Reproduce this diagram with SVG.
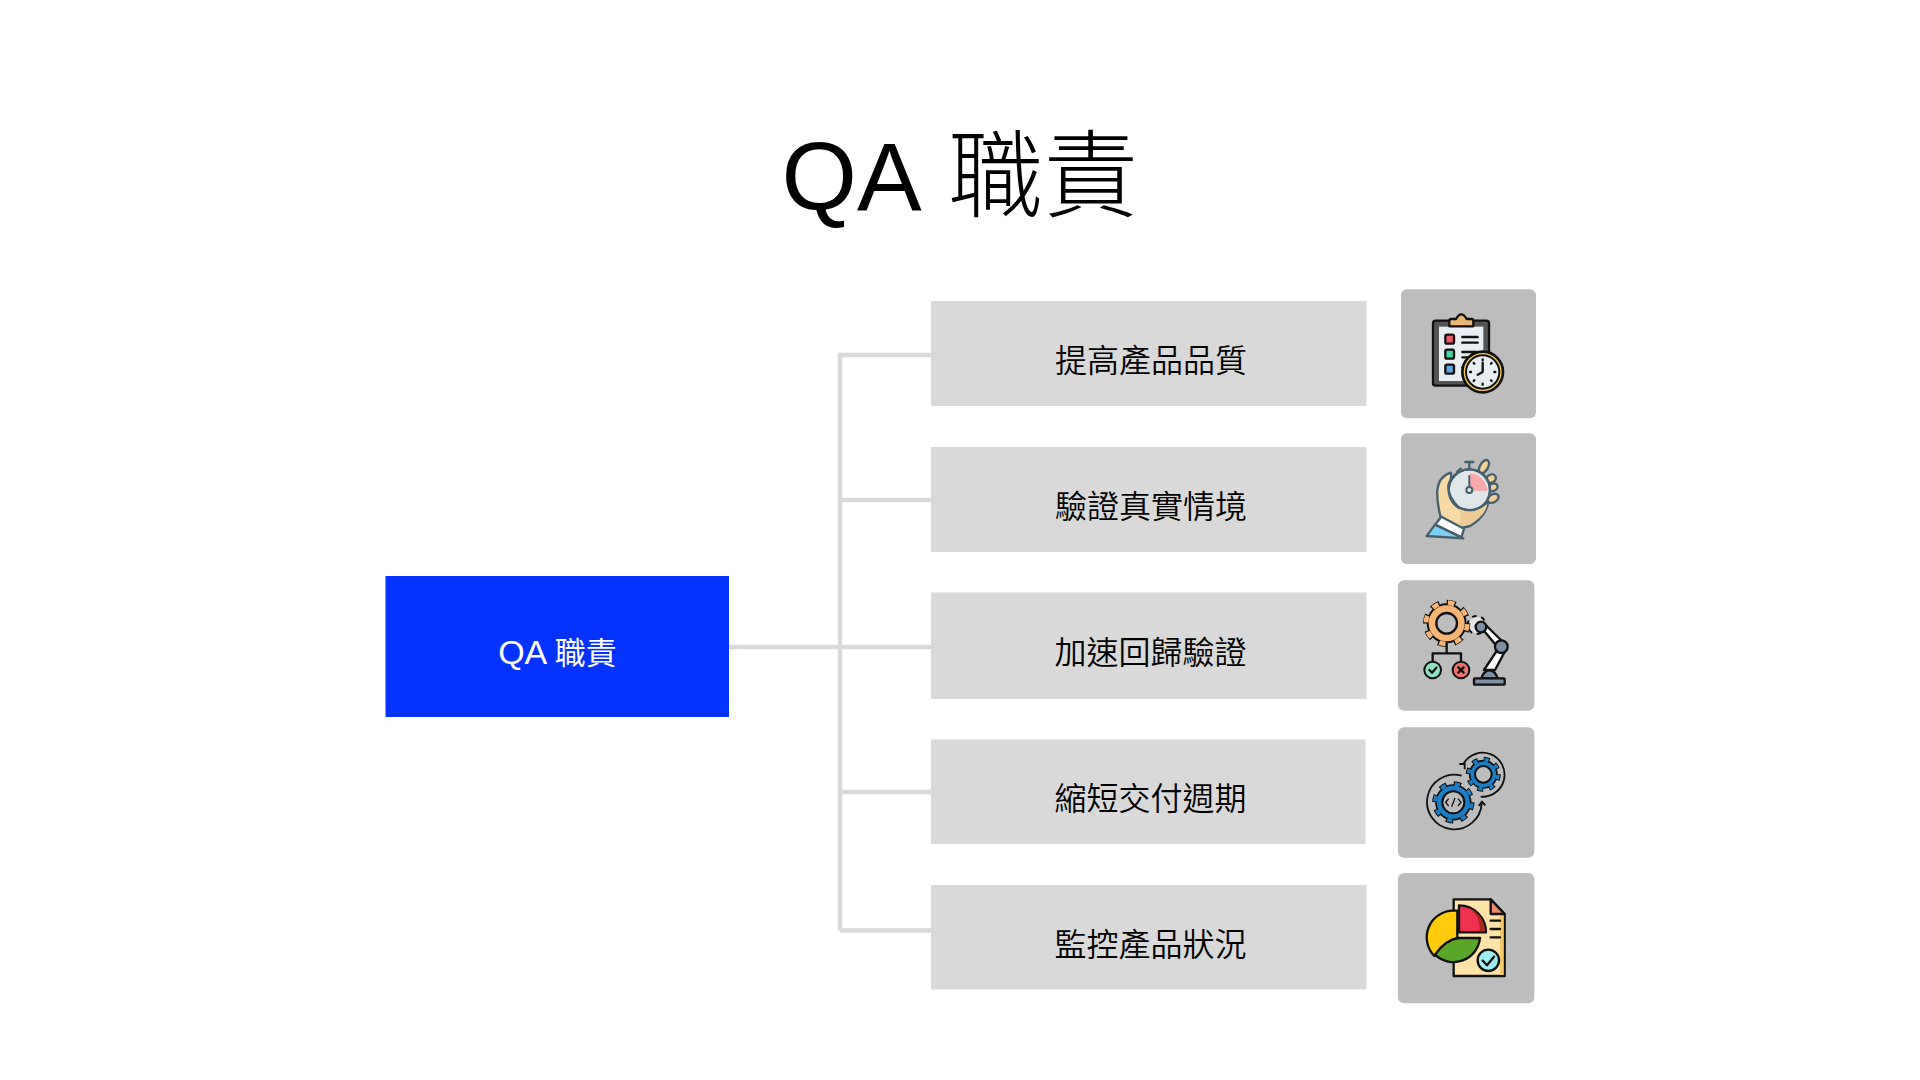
<svg xmlns="http://www.w3.org/2000/svg" width="1920" height="1080" viewBox="0 0 1920 1080">
<style>
text{font-family:"Liberation Sans","Noto Sans CJK TC",sans-serif;text-anchor:middle}
.title{font-size:97px;fill:#000}
.cjk{font-size:95px;font-weight:300}
.lab{font-size:32px;fill:#000;font-weight:350}
.root{font-size:34px;fill:#fff}
.rc{font-size:31px}
.box{fill:#d9d9d9}
.tile{fill:#bdbdbd}
.conn{stroke:#d9d9d9;stroke-width:4.5;fill:none}
.k{stroke:#111;stroke-width:7;stroke-linecap:round;stroke-linejoin:round;fill:none}
.o{stroke:#111;stroke-width:7;stroke-linejoin:round}
.s{stroke:#46606e;stroke-width:7;stroke-linecap:round;stroke-linejoin:round}
.n{stroke:#111;fill:none}
</style>
<rect width="1920" height="1080" fill="#fff"/>
<text id="title" class="title" x="960" y="210">QA <tspan class="cjk" dx="5">職責</tspan></text>
<g id="connectors">
<path class="conn" d="M729 647H931M840 355V930.500M838 355H931M840 500H931M840 792H931M840 930.500H931"/>
</g>
<g id="root"><rect x="385.500" y="576" width="343.500" height="141" fill="#0432ff"/><text class="root" x="557.500" y="664">QA <tspan class="rc">職責</tspan></text></g>
<g id="n1"><rect class="box" x="931" y="301" width="435.500" height="105"/><text class="lab" x="1151" y="372">提高產品品質</text></g>
<g id="n2"><rect class="box" x="931" y="447" width="435.500" height="105"/><text class="lab" x="1151" y="518">驗證真實情境</text></g>
<g id="n3"><rect class="box" x="931" y="592.500" width="435.500" height="106.500"/><text class="lab" x="1150.500" y="664">加速回歸驗證</text></g>
<g id="n4"><rect class="box" x="931" y="739.500" width="434.500" height="104.500"/><text class="lab" x="1150.500" y="810">縮短交付週期</text></g>
<g id="n5"><rect class="box" x="931" y="885" width="435.500" height="104.500"/><text class="lab" x="1150.500" y="956">監控產品狀況</text></g>

<g id="icon1" transform="translate(1380 280) scale(.33333)">
<rect class="tile" x="63" y="28" width="405" height="387" rx="18"/>
<rect class="o" x="159" y="122" width="168" height="195" rx="8" fill="#555"/>
<rect x="177" y="140" width="133" height="163" fill="#e9eef2"/>
<path class="o" d="M208 139V122Q208 117 214 117H228Q236 103 244 103Q252 103 260 117H274Q280 117 280 122V139Z" fill="#eab676"/>
<rect class="o" x="196" y="164" width="26" height="27" rx="5" fill="#ef5a68"/>
<rect class="o" x="196" y="209" width="26" height="27" rx="5" fill="#3fd6a0"/>
<rect class="o" x="196" y="254" width="26" height="27" rx="5" fill="#5fa8e8"/>
<path class="k" d="M247 171H293M247 188H293M247 216H290M247 232H270M247 262H262"/>
<circle cx="308" cy="276" r="61" fill="#f5cb5c" stroke="#111" stroke-width="8"/>
<circle cx="308" cy="276" r="50" fill="#e9eef2" stroke="#111" stroke-width="6"/>
<path class="k" d="M308 238V241M308 311V314M270 276H273M343 276H346M281 249L283 251M333 301L335 303M335 249L333 251M283 301L281 303"/>
<path class="k" d="M308 248V276L293 284"/>
</g>

<g id="icon2" transform="translate(1380 280) scale(.33333)">
<rect class="tile" x="63" y="460" width="405" height="392" rx="18"/>
<path class="s" d="M256 546H280M268 546V566M232 575L242 566" fill="none"/>
<ellipse class="s" cx="312" cy="560" rx="12" ry="22" transform="rotate(30 312 560)" fill="#f4cf96"/>
<ellipse class="s" cx="333" cy="596" rx="12" ry="15" transform="rotate(60 333 596)" fill="#f4cf96"/>
<ellipse class="s" cx="338" cy="622" rx="11" ry="15" transform="rotate(70 338 622)" fill="#f4cf96"/>
<ellipse class="s" cx="339" cy="655" rx="12" ry="18" transform="rotate(60 339 655)" fill="#f4cf96"/>
<circle class="s" cx="268" cy="630" r="62" fill="#dfe6ea"/>
<path d="M270 580A55 55 0 0 1 322 632H270Z" fill="#f8a8a8"/>
<path d="M268 630V588" stroke="#46606e" stroke-width="6" stroke-linecap="round"/>
<circle cx="268" cy="630" r="9" fill="#dfe6ea" stroke="#46606e" stroke-width="6"/>
<path class="s" d="M212 578Q218 590 206 612Q200 645 236 682Q280 705 325 666Q318 710 270 738L245 744L182 712Q170 665 172 630Q176 590 212 578Z" fill="#f9d9a6"/>
<circle class="s" cx="268" cy="630" r="62" fill="none"/>
<path d="M238 687Q280 707 322 672Q316 708 268 734L238 738Q246 712 238 687Z" fill="#edcb97"/>
<path class="s" d="M184 710L252 746L244 772L165 734Z" fill="#fff"/>
<path class="s" d="M165 734L140 768L250 775Z" fill="#7fd0f5"/>
</g>

<g id="icon3" transform="translate(1380 570) scale(.33333)">
<rect class="tile" x="54" y="31" width="409" height="391" rx="18"/>
<circle cx="290" cy="165" r="23" fill="#e4e4e4" stroke="#111" stroke-width="14" stroke-dasharray="1 1" pathLength="12"/>
<circle cx="290" cy="165" r="21" fill="#e4e4e4" stroke="#e4e4e4" stroke-width="6"/>
<circle cx="200" cy="160" r="62" fill="none" stroke="#111" stroke-width="18" stroke-dasharray="1.100 .9" stroke-dashoffset=".05" pathLength="16"/>
<circle cx="200" cy="160" r="57" fill="#f7b474" stroke="#111" stroke-width="6"/>
<circle cx="200" cy="160" r="62" fill="none" stroke="#f7b474" stroke-width="14" stroke-dasharray=".8 1.200" stroke-dashoffset="-.1" pathLength="16"/>
<circle cx="200" cy="160" r="31" fill="#bdbdbd" stroke="#111" stroke-width="7"/>
<path class="k" d="M200 222V250M158 275V250H243V275"/>
<circle cx="158" cy="300" r="25" fill="#8fe3c0" stroke="#111" stroke-width="6"/>
<circle cx="243" cy="300" r="25" fill="#f0736e" stroke="#111" stroke-width="6"/>
<path class="k" d="M148 300L156 308L169 293M235 292L251 308M251 292L235 308"/>
<path class="o" d="M310 180L320 168L375 222L360 240Z" fill="#fff"/>
<path class="o" d="M352 240L378 238L345 300L312 300Z" fill="#fff"/>
<circle cx="303" cy="171" r="16" fill="#7d90a6" stroke="#111" stroke-width="7"/>
<circle cx="364" cy="230" r="19" fill="#7d90a6" stroke="#111" stroke-width="7"/>
<path class="o" d="M305 325A24 30 0 0 1 352 325Z" fill="#7d90a6"/>
<rect class="o" x="282" y="325" width="92" height="19" rx="3" fill="#7d90a6"/>
</g>

<g id="icon4" transform="translate(1380 570) scale(.33333)">
<rect class="tile" x="54" y="472" width="409" height="391" rx="18"/>
<circle cx="310" cy="613" r="45" fill="none" stroke="#111" stroke-width="15" stroke-dasharray="1 1" pathLength="16"/>
<circle cx="310" cy="613" r="41" fill="#1c7fc6" stroke="#111" stroke-width="5"/>
<circle cx="310" cy="613" r="44" fill="none" stroke="#1c7fc6" stroke-width="11" stroke-dasharray=".7 1.300" stroke-dashoffset="-.15" pathLength="16"/>
<circle cx="310" cy="613" r="25" fill="#bdbdbd" stroke="#111" stroke-width="6"/>
<circle cx="220" cy="697" r="56" fill="none" stroke="#111" stroke-width="15" stroke-dasharray="1 1" pathLength="16"/>
<circle cx="220" cy="697" r="52" fill="#1c7fc6" stroke="#111" stroke-width="5"/>
<circle cx="220" cy="697" r="55" fill="none" stroke="#1c7fc6" stroke-width="11" stroke-dasharray=".7 1.300" stroke-dashoffset="-.15" pathLength="16"/>
<circle cx="220" cy="697" r="33" fill="#bdbdbd" stroke="#111" stroke-width="6"/>
<path class="n" stroke-width="4" d="M206 686L197 697L206 708M234 686L243 697L234 708M225 684L215 710"/>
<path class="n" stroke-width="5.500" d="M250 582A66 66 0 1 1 302 680M238 582H254V598M245 617A82 82 0 1 0 305 700M296 708L306 695L316 706"/>
</g>

<g id="icon5" transform="translate(1380 570) scale(.33333)">
<rect class="tile" x="54" y="909" width="409" height="391" rx="18"/>
<path class="o" d="M221 988H332L374 1032V1218H221Z" fill="#fde3a7"/>
<path d="M360 1036H371V1215H360Z" fill="#f5c76a"/>
<path class="o" d="M332 988V1032H374Z" fill="#ee8a6a"/>
<path class="k" d="M332 1052H360M332 1077H360M332 1102H360"/>
<path class="o" d="M220 1022A80 80 0 0 0 163 1158L232 1102V1022Z" fill="#ffcb0a"/>
<path class="o" d="M165 1154Q198 1108 236 1104H300A80 80 0 0 1 165 1154Z" fill="#5aa628"/>
<path class="o" d="M237 1006V1087H318A81 81 0 0 0 237 1006Z" fill="#f0304f"/>
<path d="M255 1010A74 74 0 0 1 314 1084H298A66 66 0 0 0 255 1010Z" fill="#a92a1a"/>
<circle cx="325" cy="1171" r="32" fill="#9eeef0" stroke="#111" stroke-width="7"/>
<path class="k" d="M308 1172L321 1186L342 1160"/>
</g>
</svg>
